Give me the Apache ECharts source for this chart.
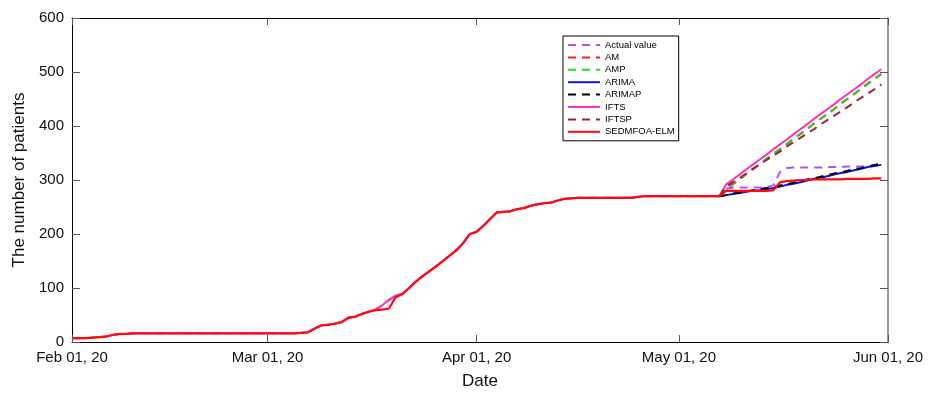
<!DOCTYPE html>
<html>
<head>
<meta charset="utf-8">
<script src="https://cdn.jsdelivr.net/npm/echarts@6/dist/echarts.min.js"></script>
<style>html,body{margin:0;padding:0;background:#fff}#c{width:933px;height:395px}</style>
</head>
<body>
<div id="c"></div>
<script>
// Day offsets from Feb 01, 2020
const tickDays = [0, 29, 60, 90, 121];
const tickLabels = ['Feb 01, 20', 'Mar 01, 20', 'Apr 01, 20', 'May 01, 20', 'Jun 01, 20'];
const yTicks = [0, 100, 200, 300, 400, 500, 600];

// Historical actual values, day 0 .. day 96 (Feb 01 .. May 07)
const actualHist = [
  7,7,7,8,9,10,13,15,15,16,
  16,16,16,16,16,16,16,16,16,16,
  16,16,16,16,16,16,16,16,16,16,
  16,16,16,16,17,18,25,31,32,34,
  37,45,47,52,56,60,68,78,86,89,
  100,112,122,131,140,150,160,170,183,200,
  204,215,228,240,241,242,246,248,252,255,
  257,258,262,265,266,267,267,267,267,267,
  267,267,267,267,269,270,270,270,270,270,
  270,270,270,270,270,270,270
];
// SEDMFOA-ELM fitted values, day 0 .. day 96
const elmHist = [
  7,7,7,8,9,10,13,15,15,16,
  16,16,16,16,16,16,16,16,16,16,
  16,16,16,16,16,16,16,16,16,16,
  16,16,16,16,17,18,25,31,32,34,
  37,45,47,52,56,59,60,62,83,89,
  100,112,122,131,140,150,160,170,183,200,
  204,215,228,240,241,242,246,248,252,255,
  257,258,262,265,266,267,267,267,267,267,
  267,267,267,267,269,270,270,270,270,270,
  270,270,270,270,270,270,270
];
// Forecast period, day 96 .. day 120 (May 07 .. May 31)
const fcStart = 96;
const actualFc = [270,284,286,286,286,286,286,287,290,315,322,323,323,323,323,323,324,324,324,325,325,325,326,327,328];
const amFc     = [270,283,292,301,311,320,329,339,348,357,366,376,385,394,404,413,422,431,441,450,459,469,478,487,496];
const ampFc    = [270,284,293,302,312,321,330,340,349,358,367,377,386,395,405,414,423,432,442,451,460,470,479,488,497];
const arimaFc  = [270,272,274,276,278,280,281,283,285,288,291,293,296,299,302,304,307,310,313,315,318,321,324,326,328];
const arimapFc = [270,272,275,277,279,281,283,285,287,290,292,295,298,301,303,306,309,312,314,317,320,322,325,328,330];
const iftsFc   = [270,292,301,310,320,329,338,347,357,366,375,385,394,403,413,422,431,440,450,459,468,477,487,496,505];
const iftspFc  = [270,288,296,304,312,321,329,337,345,353,362,370,378,386,394,403,411,419,427,435,444,452,460,468,477];
const elmFc    = [270,280,280,280,280,280,280,280,281,296,298,299,300,300,301,301,301,301,301,302,302,302,302,303,303];

function hist(arr) { return arr.map((v, i) => [i, v]); }
function fc(arr) { return arr.map((v, i) => [fcStart + i, v]); }
function full(h, f) { return hist(h).concat(fc(f).slice(1)); }

const font = 'Liberation Sans, Arial, Helvetica, sans-serif';
function line(name, data, color, type, width) {
  return {
    name, type: 'line', data, showSymbol: false, symbol: 'none', silent: true,
    lineStyle: { color, type, width }, itemStyle: { color }, animation: false,
    z: 2
  };
}

const chart = echarts.init(document.getElementById('c'), null, { renderer: 'canvas' });
chart.setOption({
  animation: false,
  textStyle: { fontFamily: font },
  grid: { left: 72, right: 45, top: 18, bottom: 51, containLabel: false },
  legend: {
    orient: 'vertical', left: 563, top: 36,
    itemWidth: 32, itemHeight: 10, itemGap: 2.4,
    padding: [4, 4, 4, 4],
    borderColor: '#000', borderWidth: 1, backgroundColor: '#fff',
    itemStyle: { opacity: 0 },
    textStyle: { fontSize: 9.5, lineHeight: 10, color: '#000', fontFamily: font },
    data: ['Actual value', 'AM', 'AMP', 'ARIMA', 'ARIMAP', 'IFTS', 'IFTSP', 'SEDMFOA-ELM']
  },
  xAxis: [{
    type: 'value', min: 0, max: 121,
    name: 'Date', nameLocation: 'middle', nameGap: 31,
    nameTextStyle: { fontSize: 17, color: '#111', fontFamily: font },
    axisLine: { show: true, lineStyle: { color: '#000', width: 1 } },
    axisTick: { show: true, inside: true, length: 7, customValues: tickDays, lineStyle: { color: '#555' } },
    axisLabel: { show: true, customValues: tickDays, margin: 8, fontSize: 15, color: '#111', fontFamily: font,
      formatter: (v) => tickLabels[tickDays.indexOf(v)] },
    splitLine: { show: false }
  }, {
    type: 'value', min: 0, max: 121, position: 'top',
    axisLine: { show: true, onZero: false, lineStyle: { color: '#000', width: 1 } },
    axisTick: { show: true, inside: true, length: 7, customValues: tickDays, lineStyle: { color: '#555' } },
    axisLabel: { show: false }, splitLine: { show: false }
  }],
  yAxis: [{
    type: 'value', min: 0, max: 600, interval: 100,
    name: 'The number of patients', nameLocation: 'middle', nameGap: 39, nameRotate: 90,
    nameTextStyle: { fontSize: 17, color: '#111', fontFamily: font },
    axisLine: { show: true, lineStyle: { color: '#000', width: 1 } },
    axisTick: { show: true, inside: true, length: 8, lineStyle: { color: '#555' } },
    axisLabel: { fontSize: 15, color: '#111', margin: 8, fontFamily: font,
      formatter: (v) => yTicks.indexOf(v) >= 0 ? String(v) : '' },
    splitLine: { show: false }
  }, {
    type: 'value', min: 0, max: 600, interval: 100, position: 'right',
    axisLine: { show: true, onZero: false, lineStyle: { color: '#777', width: 1.5 } },
    axisTick: { show: true, inside: true, length: 8, lineStyle: { color: '#555' } },
    axisLabel: { show: false }, splitLine: { show: false }
  }],
  series: [
    line('Actual value', full(actualHist, actualFc), '#b44dff', [8, 6], 2),
    line('AM', fc(amFc), '#ff1a1a', [8, 6], 2),
    line('AMP', fc(ampFc), '#22dd22', [8, 6], 2),
    line('ARIMA', fc(arimaFc), '#1010ee', 'solid', 2),
    line('ARIMAP', fc(arimapFc), '#000000', [8, 6], 2),
    line('IFTS', full(actualHist, iftsFc), '#ff2fbf', 'solid', 2),
    line('IFTSP', fc(iftspFc), '#a3202e', [8, 6], 2),
    line('SEDMFOA-ELM', full(elmHist, elmFc), '#ff0a0a', 'solid', 2.2)
  ]
});
</script>
</body>
</html>
